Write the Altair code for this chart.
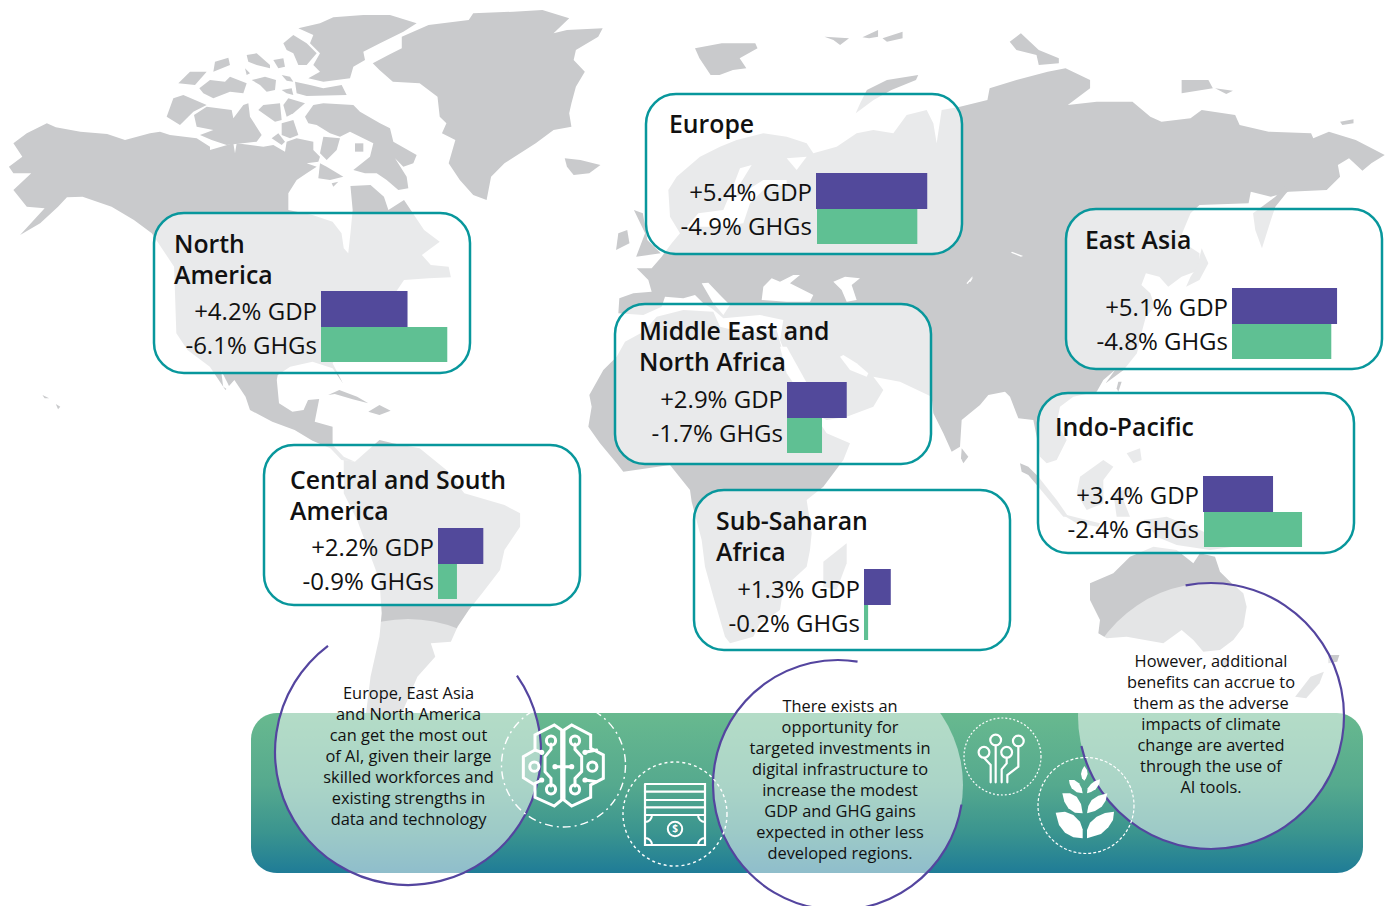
import math
import altair as alt
import pandas as pd

W, H = 1379, 890
FONT = "Open Sans"
INK = "#111111"
LAND = "#c9cacc"
TEAL = "#08979c"
PURPLE = "#52499b"
GREEN = "#5fc093"
ARC = "#54459f"

# ---------- values ----------
titles = [["Europe"], ["North", "America"], ["Middle East and", "North Africa"], ["East Asia"],
          ["Indo-Pacific"], ["Central and South", "America"], ["Sub-Saharan", "Africa"]]
gdp_pct = [5.4, 4.2, 2.9, 5.1, 3.4, 2.2, 1.3]
ghg_pct = [4.9, 6.1, 1.7, 4.8, 2.4, 0.9, 0.2]
ghg_drawn = [4.87, 6.13, 1.7, 4.82, 4.76, 0.92, 0.2]
gdp_labels = ["+5.4% GDP", "+4.2% GDP", "+2.9% GDP", "+5.1% GDP", "+3.4% GDP", "+2.2% GDP", "+1.3% GDP"]
ghg_labels = ["-4.9% GHGs", "-6.1% GHGs", "-1.7% GHGs", "-4.8% GHGs", "-2.4% GHGs", "-0.9% GHGs", "-0.2% GHGs"]

box_left = [646, 154, 615, 1066, 1038, 264, 694]
box_top = [94, 213, 304, 209, 393, 445, 490]
title_x = [669, 174, 639, 1085, 1055, 290, 716]
title_y = [133, 253, 340, 249, 436, 489, 530]
bar_x = [816, 321, 787, 1232, 1203, 438, 864]
ghg_x = [817, 321, 787, 1232, 1204, 438, 864]
bar_y = [173, 291, 382, 288, 476, 528, 569]
label_y = [201, 320, 408, 316, 504, 556, 598]
BOX_W, BOX_H, PX_PER_PCT = 316, 160, 20.6

para1 = ["Europe, East Asia", "and North America", "can get the most out", "of AI, given their large",
         "skilled workforces and", "existing strengths in", "data and technology"]
para2 = ["There exists an", "opportunity for", "targeted investments in", "digital infrastructure to",
         "increase the modest", "GDP and GHG gains", "expected in other less", "developed regions."]
para3 = ["However, additional", "benefits can accrue to", "them as the adverse", "impacts of climate",
         "change are averted", "through the use of", "AI tools."]


def z(points, ox, oy, sx=3.0, sy=3.0):
    return [[ox + a / sx, oy + b / sy] for a, b in points]


def z1(p): return z(p, 0, 0, 2.24, 3)
def z2(p): return z(p, 695, 0, 2.24, 3)
def z4(p): return z(p, 700, 570, 2.26, 3)
def z5(p): return z(p, 0, 380, 2.24, 3)
def z8(p): return z(p, 900, 360)
def z9(p): return z(p, 580, 200)
def z10(p): return z(p, 640, 90)
def z6(p): return z(p, 500, 700)
def z7(p): return z(p, 955, 710)
def za(p): return z(p, 150, 10)


north_america = z1([(30,430),(60,400),(105,370),(125,382),(180,395),(240,402),(280,420)]) + \
    za([(0,370),(30,365),(60,375),(140,385),(180,410),(180,420),(250,400),(255,430),(260,400),(340,410),(370,405),(405,425),
        (410,395),(440,385),(490,395),(490,420),(510,440),(505,455),(470,460),(500,470),(470,490),(440,510),(415,550),(415,600)]) + \
    z1([(700,645),(745,665),(765,700),(770,745),(780,760),(785,700),(790,630),(785,558),(830,555),(860,590),(870,630),(905,600),(920,630),
    (950,690),(985,725),(945,765),(965,795),(1005,800),(1010,832),(960,835),(905,840),(885,880),(835,920),(800,980),
    (770,1040),(745,1090),(768,1150),(745,1105),(700,1085),(650,1100),(622,1125)]) + z5([(620,0),(625,70),(655,95),
    (680,90),(690,60),(715,57),(705,125),(745,140),(745,195),(770,230),(795,245),(765,240),(740,205),(700,182),(660,150),
    (610,125),(560,90),(550,50),(525,0)]) + z1([(505,1170),(470,1100),(420,1050),(395,1000),(390,800),(340,700),(300,660),
    (250,620),(185,590),(150,592),(130,620),(90,670),(45,705),(100,625),(60,620),(30,570),(70,520),(30,520),(20,500),(50,470)])
baja = z1([(495,1110),(510,1150),(520,1178),(500,1160)])
greenland = z1([(900,110),(960,75),(1050,60),(1060,40),(1150,35),(1215,30),(1275,55),(1240,100),(1270,90),(1350,85),(1340,110),
    (1290,150),(1285,180),(1310,215),(1290,260),(1280,310),(1275,340),(1280,380),(1240,390),(1200,430),(1130,490),(1100,530),
    (1090,600),(1060,585),(1030,540),(1005,490),(1020,420),(990,400),(1000,370),(985,350),(980,290),(940,250),(880,245),
    (850,210),(835,190),(870,165),(900,145)])
iceland = z1([(1265,475),(1300,480),(1345,495),(1320,520),(1285,525),(1270,500)])
arctic = [za(p) for p in [
    [(445,55),(510,40),(550,22),(640,15),(720,15),(800,40),(760,65),(690,100),(640,125),(645,150),(610,170),(600,205),(520,215),(475,205),(510,185),(490,165),(510,130),(480,100),(490,75)],
    [(400,100),(430,75),(470,100),(500,130),(470,165),(445,165),(430,130),(410,120)],
    [(435,215),(480,225),(520,235),(575,225),(590,255),(470,258),(440,250)],
    [(395,195),(420,200),(430,215),(410,212)],
    [(395,240),(425,235),(430,255),(410,250)],
    [(305,210),(345,200),(378,210),(375,240),(350,245),(330,225)],
    [(148,235),(180,210),(225,215),(240,200),(290,220),(280,250),(240,245),(190,265),(160,250)],
    [(85,220),(120,185),(170,185),(135,225)],
    [(195,155),(235,143),(240,165),(190,185)],
    [(290,135),(320,130),(360,165),(360,175),(320,165),(295,155)],
    [(370,150),(400,145),(405,170),(385,175)],
    [(285,175),(300,190),(290,195)],
    [(50,320),(70,265),(100,255),(170,285),(130,305),(90,345)],
    [(132,315),(170,290),(245,300),(250,325),(280,285),(295,280),(300,320),(335,375),(320,395),(230,405),(185,390),(150,375),(190,360),(140,350)],
    [(325,300),(340,285),(390,280),(395,330),(375,335)],
    [(415,265),(465,280),(430,310),(410,320),(400,285)],
    [(395,340),(430,330),(445,375),(420,385),(395,375)],
    [(365,385),(385,370),(405,395),(395,405)],
    [(465,320),(490,285),(520,280),(610,285),(630,305),(690,340),(720,355),(730,395),(800,435),(790,460),(760,470),(735,445),(770,500),(775,535),(745,540),(710,510),(680,490),(645,490),(610,480),(660,440),(670,400),(600,365),(570,380),(540,370),(500,345),(475,340)],
    [(615,400),(640,400),(640,425),(615,425)],
    [(520,380),(570,385),(560,420),(530,450),(510,430)],
    [(510,460),(530,470),(580,500),(540,510),(505,505)],
    [(545,520),(565,515),(550,530)],
]]
hawaii = [z5([(95,45),(110,55),(100,55)]), z5([(125,72),(135,80),(130,88)])]
cuba = z5([(735,45),(760,30),(800,50),(825,70),(790,58),(750,42)])
hispaniola = z5([(825,95),(850,75),(875,92),(850,105)])
south_america = z5([(770,240),(795,245),(850,180),(880,190),(940,205),(1000,270),(1040,340),(1130,375),(1165,400),(1165,440),(1130,510),
    (1120,570),(1080,640),(1050,690),(1025,740),(1010,785),(965,790),(975,830),(935,890),(900,1000),(820,1000),(830,890),
    (850,770),(855,700),(850,600),(800,420),(770,340)])
eurasia = (z9([(115,340),(118,295),(160,280),(215,275),(205,240),(170,205),(215,205),(245,170)])
    + z10([(95,460),(120,430),(90,380),(85,300),(110,260),(180,200),(240,170),(290,150),(370,130),(440,140),(500,160),(520,190),
           (590,170),(650,130),(700,120),(760,130),(800,75),(860,60),(880,100),(890,160),(905,60),(960,50)])
    + z2([(655,300),(660,265),(720,240),(790,215),(830,205),(885,240),(885,265),(835,315),(900,305),(980,305),(1020,350),(1045,365),
          (1110,355),(1135,330),(1210,345),(1220,375),(1285,395),(1380,400),(1385,415),(1420,395),(1480,420),(1545,465),(1515,490),
          (1495,512),(1465,475),(1440,495),(1445,530),(1415,570),(1330,575),(1290,590),(1245,575),(1240,610),(1130,615),(1110,640),
          (1085,720),(1130,760),(1130,810),(1090,830),(1060,860),(1040,830),(1010,820),(1000,855),(1020,880),(1030,920),(1010,950),
          (1000,1000),(990,1060),(960,1110),(920,1150)])
    + z8([(645,30),(610,60),(590,95),(520,110),(480,140),(470,190),(500,240),(470,300),(440,310),(420,290),(410,230),(400,180),
          (355,175),(330,110),(315,95),(265,105),(240,135),(185,180),(180,260),(155,275),(130,220),(100,160)])
    + z9([(1055,590),(960,545),(880,530),(910,570),(880,620),(800,650),(740,660),(700,640),(620,470),(600,420),(610,360),(540,345),(480,350),
          (430,355),(395,325),(370,310),(345,285),(310,295),(255,290),(245,320),(190,345)]))
africa = z9([(190,395),(230,350),(310,330),(400,335),(420,380),(500,400),(590,390),(615,480),(700,640),(740,700),(810,730),(790,780),
    (730,860),(680,900),(695,1000),(690,1050),(680,1100),(610,1165),(600,1230),(540,1270),(520,1310),(450,1330),(435,1310),(400,1190),
    (375,1100),(365,1020),(335,905),(330,870),(270,795),(130,815),(110,790),(60,730),(25,680),(35,620),(28,585),(70,510),(110,470),(135,425)])
islands = [
    z9([(800,1030),(800,1090),(770,1170),(730,1160),(730,1085)]),       # Madagascar
    z1([(1420,630),(1440,640),(1450,720),(1480,760),(1425,770),(1445,700)]),  # Britain
    z1([(1385,700),(1405,690),(1410,730),(1380,750)]),                   # Ireland
    z2([(0,145),(60,130),(135,130),(140,145),(100,175),(115,205),(85,210),(55,225),(35,225),(10,175)]),
    z2([(290,110),(345,115),(325,135),(310,120)]),
    z2([(375,112),(410,90),(410,110),(390,115)]),
    z2([(420,115),(465,95),(465,115),(430,125)]),
    z2([(705,125),(730,100),(770,150),(815,175),(815,190),(770,195),(765,165),(720,150)]),
    z2([(1090,240),(1150,240),(1160,265),(1090,280)]),
    z2([(1165,265),(1205,272),(1190,282)]),
    z2([(1445,365),(1475,358),(1475,370),(1450,375)]),
    z2([(385,270),(430,240),(500,225),(495,240),(440,270),(400,300),(360,340),(370,310)]),  # Novaya Zemlya
    z2([(1300,590),(1320,560),(1330,570),(1300,620),(1290,660),(1270,745),(1255,690),(1250,640)]),  # Sakhalin
    z2([(1135,745),(1150,790),(1130,840),(1100,860),(1110,830),(1125,800)]),  # Japan
    z8([(655,65),(665,65),(655,95),(650,85)]),
    z8([(185,265),(205,290),(190,310),(183,295)]),
    z8([(360,310),(385,320),(415,350),(470,420),(505,470),(490,470),(440,410),(385,345),(365,335)]),
    z8([(480,460),(560,480),(600,490),(595,500),(530,490)]),
    z8([(540,350),(610,300),(640,320),(610,360),(610,430),(560,450),(530,400)]),
    z8([(640,400),(700,380),(670,420),(690,470),(650,470)]),
    z8([(680,280),(720,265),(725,300),(700,310)]),
    z8([(730,480),(800,470),(900,510),(1000,560),(930,570),(830,555),(770,530)]),
    z8([(570,670),(640,640),(690,590),(760,560),(830,570),(880,610),(900,580),(945,590),(960,635),(995,670),(1030,700),(1040,740),
        (1030,800),(1000,840),(960,870),(910,875),(880,840),(845,810),(790,850),(680,830),(620,835),(595,820),(600,780),(570,720)]),
    z8([(960,900),(990,900),(975,930)]),
    z4([(1345,380),(1380,320),(1410,305),(1400,340),(1370,385)]),
    z4([(1420,255),(1445,255),(1440,275),(1420,280)]),
]
seas = [
    z9([(545,300),(550,260),(575,235),(600,245),(640,225),(660,225),(630,250),(700,285),(690,305),(620,305)]),
    z9([(760,245),(795,230),(840,235),(815,255),(830,300),(800,305),(785,270)]),
    z9([(365,250),(385,248),(420,285),(450,315),(430,345),(400,310)]),
    z9([(780,470),(810,510),(860,530),(865,520),(830,490),(790,465)]),
    z9([(600,440),(620,440),(720,620),(735,650),(715,660),(620,520)]),
    z10([(140,410),(175,370),(250,360),(275,300),(300,235),(335,225),(295,290),(290,320),(370,270),(440,270),(440,285),(380,290),
         (330,340),(310,400),(240,410),(170,410)]),
    z10([(440,205),(500,200),(470,240)]),
    z2([(710,755),(735,768),(730,770),(708,758)]),
    z2([(608,850),(622,828),(620,835),(611,852)]),
    z9([(1165,245),(1180,230),(1172,245)]),
]
land = [north_america, greenland, iceland, south_america, eurasia, africa, cuba, hispaniola] + arctic + hawaii + islands
seas = seas + [baja]

plant = [z7(p) for p in [
    [(388,168),(396,180),(398,192),(393,205),(388,212),(381,205),(378,192),(381,180)],
    [(342,210),(358,210),(372,220),(380,235),(383,250),(365,247),(350,235),(344,222)],
    [(435,208),(433,222),(422,238),(408,246),(396,250),(398,235),(408,222),(420,213)],
    [(322,250),(345,250),(365,260),(378,282),(383,310),(360,308),(340,295),(328,275)],
    [(457,250),(452,272),(440,290),(420,303),(396,310),(400,288),(410,270),(430,257)],
    [(302,308),(330,305),(355,315),(375,335),(383,358),(383,385),(355,382),(330,368),(312,345)],
    [(477,305),(474,330),(460,352),(438,372),(396,385),(396,360),(405,338),(425,320),(450,309)],
]]
brain_lines = [z6(p) for p in [
    [(185,90),(163,75),(105,105),(105,150),(70,170),(70,233),(105,255),(105,292),(163,318),(185,300),(185,90)],
    [(192,90),(215,75),(272,105),(272,145),(310,165),(310,235),(272,255),(272,292),(215,318),(192,300),(192,90)],
    [(153,132),(153,148),(135,170),(135,215),(153,235),(153,258)],
    [(225,132),(225,148),(245,170),(245,215),(225,235),(225,258)],
    [(165,200),(215,200)],
    [(105,150),(125,157)], [(105,250),(125,240)], [(290,150),(255,157)], [(290,245),(255,240)],
]]
brain_rings = z6([(153,122),(225,122),(153,268),(225,268),(103,200),(277,200)])
brain_dots = z6([(165,200),(215,200),(125,157),(125,240),(255,157),(255,240)])
money_lines = [z6(p) for p in [
    [(435,252),(615,252),(615,435),(435,435),(435,252)],
    [(435,275),(615,275)], [(435,300),(615,300)], [(435,322),(615,322)], [(435,345),(615,345)],
]]
circuit_lines = [z7(p) for p in [
    [(122,106),(122,217)],
    [(87,143),(107,165),(107,217)],
    [(155,143),(155,160),(140,178),(140,217)],
    [(190,110),(190,170),(157,195),(157,217)],
]]
circuit_rings = z7([(122,90),(190,93),(155,127),(87,127)])

# ---------- chart helpers ----------
xs = alt.Scale(domain=[8, 8 + W], nice=False, zero=False)
ys = alt.Scale(domain=[8 + H, 8], nice=False, zero=False)
X = alt.X("x:Q", scale=xs, axis=None)
Y = alt.Y("y:Q", scale=ys, axis=None)
proj = dict(type="identity", scale=1, translate=[-8, -8])


def polys(rings, color):
    feats = [{"type": "Feature", "properties": {}, "geometry": {"type": "Polygon", "coordinates": [r + [r[0]]]}} for r in rings]
    return alt.Chart(alt.Data(values=feats)).mark_geoshape(fill=color, strokeWidth=0).project(**proj)


def lines(paths, width):
    feats = [{"type": "Feature", "properties": {}, "geometry": {"type": "LineString", "coordinates": p}} for p in paths]
    return alt.Chart(alt.Data(values=feats)).mark_geoshape(filled=False, stroke="white", strokeWidth=width,
                                                           strokeCap="round", strokeJoin="miter").project(**proj)


def disc(pts, r, **kw):
    df = pd.DataFrame(pts, columns=["x", "y"])
    return alt.Chart(df).mark_point(size=4 * r * r, **kw).encode(x=X, y=Y)


def arc(cx, cy, r, a, b, color=ARC, width=2.2):
    df = pd.DataFrame({"x": [cx], "y": [cy]})
    return alt.Chart(df).mark_arc(innerRadius=r, outerRadius=r, theta=math.radians(a), theta2=math.radians(b),
                                  stroke=color, strokeWidth=width).encode(x=X, y=Y)


def text_layer(rows, **kw):
    df = pd.DataFrame(rows, columns=["x", "y", "t"])
    return alt.Chart(df).mark_text(font=FONT, color=INK, **kw).encode(x=X, y=Y, text="t:N")


def rect_layer(df, **kw):
    return alt.Chart(df).mark_rect(**kw).encode(x=X, x2=alt.X2("x2:Q"), y=Y, y2=alt.Y2("y2:Q"))


boxes = pd.DataFrame({"x": box_left, "y": box_top})
boxes["x2"] = boxes.x + BOX_W
boxes["y2"] = boxes.y + BOX_H
gdp_bars = pd.DataFrame({"x": bar_x, "y": bar_y})
gdp_bars["x2"] = gdp_bars.x + pd.Series(gdp_pct) * PX_PER_PCT
gdp_bars["y2"] = gdp_bars.y + 36
ghg_bars = pd.DataFrame({"x": ghg_x, "y": bar_y})
ghg_bars["y"] = ghg_bars.y + 36
ghg_bars["x2"] = ghg_bars.x + pd.Series(ghg_drawn) * PX_PER_PCT
ghg_bars["y2"] = ghg_bars.y + 35

title_rows = [(title_x[i], title_y[i] + 31 * j, t) for i, ls in enumerate(titles) for j, t in enumerate(ls)]
label_rows = [(bar_x[i] - 4, label_y[i], gdp_labels[i]) for i in range(7)] + \
             [(bar_x[i] - 4, label_y[i] + 34, ghg_labels[i]) for i in range(7)]
body_rows = [(408.5, 693.8 + 21 * i, t) for i, t in enumerate(para1)] + \
            [(840, 706.5 + 21 * i, t) for i, t in enumerate(para2)] + \
            [(1211, 661.8 + 21 * i, t) for i, t in enumerate(para3)]

band = pd.DataFrame({"x": [251], "x2": [1363], "y": [713], "y2": [873]})
band_fill = alt.Gradient(gradient="linear", x1=0, x2=0, y1=0, y2=1, stops=[
    alt.GradientStop(color="#68b98f", offset=0),
    alt.GradientStop(color="#55a98e", offset=0.45),
    alt.GradientStop(color="#3a948f", offset=0.75),
    alt.GradientStop(color="#1f7c97", offset=1),
])

layers = [
    polys(land, LAND),
    polys(seas, "white"),
    rect_layer(boxes, fill="white", fillOpacity=0.6, stroke=TEAL, strokeWidth=2.5, cornerRadius=30),
    rect_layer(gdp_bars, fill=PURPLE),
    rect_layer(ghg_bars, fill=GREEN),
    text_layer(title_rows, align="left", baseline="alphabetic", fontSize=24.8, fontWeight=600),
    text_layer(label_rows, align="right", baseline="alphabetic", fontSize=24),
    rect_layer(band, fill=band_fill, cornerRadius=26),
    disc([(408, 752)], 133, filled=True, color="white", opacity=0.5, strokeWidth=0),
    disc([(838, 785)], 125, filled=True, color="white", opacity=0.5, strokeWidth=0),
    disc([(1211, 716)], 133, filled=True, color="white", opacity=0.5, strokeWidth=0),
    arc(408, 752, 133, 55, 323),
    arc(838, 785, 125, 99, 369),
    arc(1211, 716, 133, 349, 617),
    disc([(563.5, 765)], 62, filled=False, color="white", opacity=1, strokeWidth=1.4, strokeDash=[8, 4, 2, 4]),
    disc([(675, 814)], 52, filled=False, color="white", opacity=1, strokeWidth=1.4, strokeDash=[3, 3]),
    disc([(1002.5, 756.5)], 38.5, filled=False, color="white", opacity=1, strokeWidth=1.2, strokeDash=[2, 2]),
    disc([(1086, 805.5)], 48, filled=False, color="white", opacity=1, strokeWidth=1.2, strokeDash=[3, 2]),
    lines(brain_lines, 3.0),
    disc(brain_rings, 4.6, filled=False, color="white", opacity=1, strokeWidth=3.0),
    disc(brain_dots, 2.6, filled=True, color="white", opacity=1, strokeWidth=0),
    lines(money_lines, 2.2),
    arc(645, 815, 7, 90, 180, "white", 2),
    arc(705, 815, 7, 180, 270, "white", 2),
    arc(645, 845, 7, 0, 90, "white", 2),
    arc(705, 845, 7, 270, 360, "white", 2),
    disc([(675, 829)], 7.2, filled=False, color="white", opacity=1, strokeWidth=2),
    alt.Chart(pd.DataFrame({"x": [675], "y": [829], "t": ["$"]})).mark_text(
        font=FONT, color="white", fontSize=10, fontWeight=700, align="center", baseline="middle").encode(x=X, y=Y, text="t:N"),
    lines(circuit_lines, 2.2),
    disc(circuit_rings, 5.4, filled=False, color="white", opacity=1, strokeWidth=2.2),
    polys(plant, "white"),
    text_layer(body_rows, align="center", baseline="middle", fontSize=16.4),
]

chart = alt.layer(*layers).properties(width=W, height=H, padding=0, background="white").configure_view(stroke=None)
chart.save("out.html", embed_options={"renderer": "svg", "actions": False})
